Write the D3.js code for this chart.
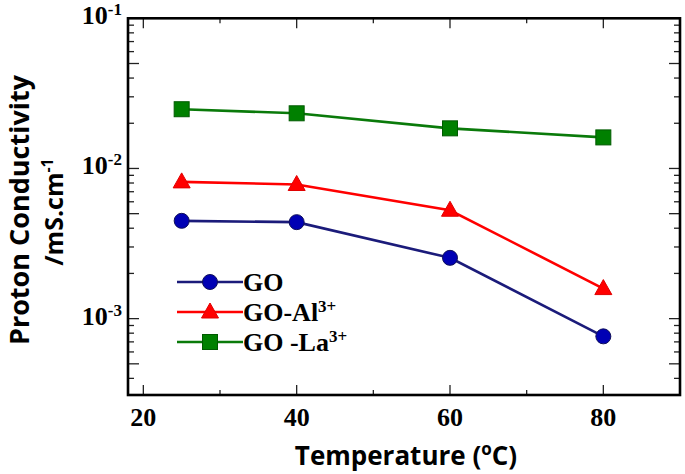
<!DOCTYPE html>
<html><head><meta charset="utf-8">
<script src="https://cdn.jsdelivr.net/npm/d3@7"></script>
<style>body{margin:0;background:#fff}svg{display:block}</style>
</head><body>
<script>
const temps = [25, 40, 60, 80];
const seriesNames = ["GO", "GO-Al", "GO -La"];
const goValues = [0.00448, 0.00439, 0.00254, 0.000762];
const alValues = [0.00814, 0.00782, 0.00527, 0.001585];
const laValues = [0.0248, 0.0233, 0.0185, 0.0161];
const xTickValues = [20, 40, 60, 80];
const xMinorTicks = [30, 50, 70];
const yTickExponents = [-1, -2, -3];

const W = 685, H = 474;
const svg = d3.select("body").append("svg").attr("width", W).attr("height", H);
const x = d3.scaleLinear().domain([18, 90]).range([128, 680]);
const y = d3.scaleLog().domain([3.1e-4, 0.1]).range([395, 18.3]);

const series = [
  {name: seriesNames[0], vals: goValues, line: "#1b1b7a", fill: "#0000b4", stroke: "#10105a", shape: "circle"},
  {name: seriesNames[1], vals: alValues, line: "#ff0000", fill: "#ff0000", stroke: "#e00000", shape: "triangle"},
  {name: seriesNames[2], vals: laValues, line: "#0a7a0a", fill: "#008000", stroke: "#005a00", shape: "square"}
];

// ticks
const g = svg.append("g");
const x0 = x.range()[0], x1 = x.range()[1], y0 = y.range()[0], y1 = y.range()[1];
function hTick(v, len){
  g.append("line").attr("x1", x(v)).attr("x2", x(v)).attr("y1", y0).attr("y2", y0 - len).attr("stroke","#222").attr("stroke-width",1.3);
  g.append("line").attr("x1", x(v)).attr("x2", x(v)).attr("y1", y1).attr("y2", y1 + len).attr("stroke","#222").attr("stroke-width",1.3);
}
xTickValues.forEach(v => hTick(v, 10));
xMinorTicks.forEach(v => hTick(v, 5));
const yTicks = y.ticks();
yTicks.forEach(v => {
  const m = Math.round(v / Math.pow(10, Math.floor(Math.log10(v) + 1e-9)));
  const len = (m === 1 || m === 5) ? 11 : 6;
  g.append("line").attr("x1", x0).attr("x2", x0 + len).attr("y1", y(v)).attr("y2", y(v)).attr("stroke","#222").attr("stroke-width",1.3);
  g.append("line").attr("x1", x1).attr("x2", x1 - len).attr("y1", y(v)).attr("y2", y(v)).attr("stroke","#222").attr("stroke-width",1.3);
});

// frame
svg.append("rect").attr("x", x0).attr("y", y1).attr("width", x1 - x0).attr("height", y0 - y1)
  .attr("fill","none").attr("stroke","#000").attr("stroke-width",2.6);

// tick labels
const serif = "'Liberation Serif', 'Times New Roman', serif";
xTickValues.forEach(v => {
  svg.append("text").attr("x", x(v)).attr("y", 426).attr("text-anchor","middle")
    .attr("font-family", serif).attr("font-weight","bold").attr("font-size", 26).attr("fill","#000").text(v);
});
yTickExponents.forEach(e => {
  const t = svg.append("text").attr("x", 122).attr("y", y(Math.pow(10, e)) + 6).attr("text-anchor","end")
    .attr("font-family", serif).attr("font-weight","bold").attr("font-size", 26).attr("fill","#000");
  t.append("tspan").text("10");
  t.append("tspan").attr("font-size", 17).attr("dy", -9).text("-" + Math.abs(e));
});

// lines and markers
const line = d3.line().x((d, i) => x(temps[i])).y(d => y(d));
function marker(sel, shape, cx, cy){
  if (shape === "circle") sel.append("circle").attr("cx", cx).attr("cy", cy).attr("r", 7.5);
  else if (shape === "square") sel.append("rect").attr("x", cx - 7.5).attr("y", cy - 7.5).attr("width", 15).attr("height", 15);
  else sel.append("path").attr("d", `M${cx},${cy - 9}L${cx + 8.5},${cy + 6}L${cx - 8.5},${cy + 6}Z`);
}
series.forEach(s => {
  svg.append("path").datum(s.vals).attr("d", line).attr("fill","none").attr("stroke", s.line).attr("stroke-width", 2.6);
  const mg = svg.append("g").attr("fill", s.fill).attr("stroke", s.stroke).attr("stroke-width", 1);
  s.vals.forEach((v, i) => marker(mg, s.shape, x(temps[i]), y(v)));
});

// legend
const legendY = [282, 312, 342];
const supers = ["", "3+", "3+"];
series.forEach((s, i) => {
  const ly = legendY[i];
  svg.append("line").attr("x1", 177).attr("x2", 243).attr("y1", ly).attr("y2", ly).attr("stroke", s.line).attr("stroke-width", 2.6);
  const mg = svg.append("g").attr("fill", s.fill).attr("stroke", s.stroke).attr("stroke-width", 1);
  marker(mg, s.shape, 210, ly);
  const t = svg.append("text").attr("x", 243).attr("y", ly + 9).attr("font-family", serif).attr("font-weight","bold")
    .attr("font-size", 26).attr("fill","#000");
  t.append("tspan").text(s.name);
  if (supers[i]) t.append("tspan").attr("font-size", 17).attr("dy", -9).text(supers[i]);
});

// axis titles
const sans = "'Open Sans', 'Noto Sans', sans-serif";
const xt = svg.append("text").attr("x", 406).attr("y", 465).attr("text-anchor","middle")
  .attr("font-family", sans).attr("font-weight","bold").attr("font-size", 26).attr("fill","#000");
xt.append("tspan").text("Temperature (");
xt.append("tspan").attr("font-size", 17).attr("dy", -10).text("o");
xt.append("tspan").attr("dy", 10).text("C)");

svg.append("text").attr("transform", "translate(29,210) rotate(-90)").attr("text-anchor","middle")
  .attr("font-family", sans).attr("font-weight","bold").attr("font-size", 27).attr("fill","#000")
  .text("Proton Conductivity");
const yt2 = svg.append("text").attr("transform", "translate(63,212) rotate(-90)").attr("text-anchor","middle")
  .attr("font-family", sans).attr("font-weight","bold").attr("font-size", 25).attr("fill","#000");
yt2.append("tspan").text("/mS.cm");
yt2.append("tspan").attr("font-size", 16).attr("dy", -10).text("-1");
</script>
</body></html>
